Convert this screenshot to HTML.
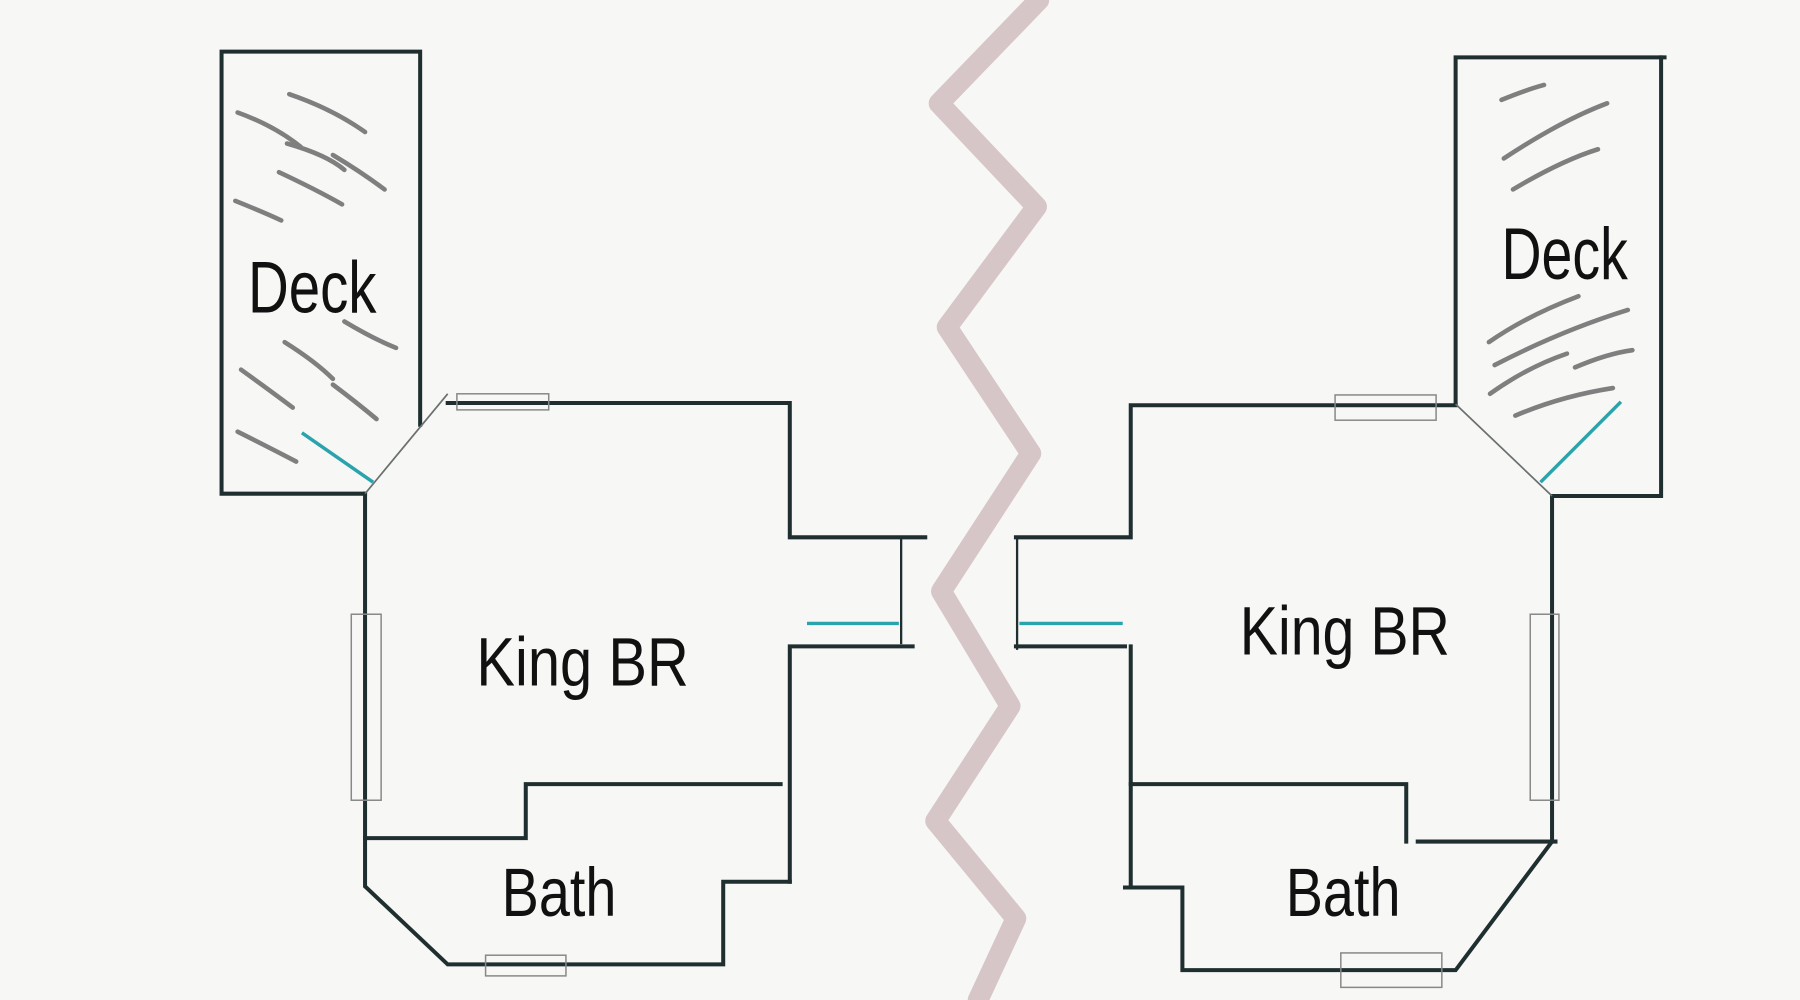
<!DOCTYPE html>
<html><head><meta charset="utf-8"><style>
html,body{margin:0;padding:0;background:#f7f7f6;}
svg{display:block}
text{font-family:"Liberation Sans",sans-serif;fill:#111;}
</style></head><body>
<svg width="1800" height="1000" viewBox="0 0 1568 871" preserveAspectRatio="none">
<rect width="1568" height="871" fill="#f7f7f6"/>
<polyline points="905,0 818,90 903,180 825,285 898,395 820,515 880,615 815,715 885,800 852,871" fill="none" stroke="#d6c6c8" stroke-width="18" stroke-linejoin="round" stroke-linecap="round"/>
<g fill="none" stroke="#1f2f30" stroke-width="3.5" stroke-linecap="square">
<polyline points="366,370 366,45 193,45 193,430 318,430"/>
<polyline points="390,351 685,351"/>
<polyline points="688,351 688,468 806,468"/>
<polyline points="688,768 688,563 795,563"/>
<polyline points="318,430 318,730"/>
<polyline points="318,730 458,730 458,683 680,683"/>
<polyline points="318,730 318,772 390,840 630,840 630,768 688,768"/>
<line x1="785" y1="470" x2="785" y2="560" stroke-width="2"/>
<polyline points="1268,352 1268,50 1450,50"/>
<polyline points="1447,50 1447,432 1352,432"/>
<polyline points="1268,353 985,353 985,468 885,468"/>
<polyline points="885,563 980,563"/>
<polyline points="985,563 985,770"/>
<polyline points="985,683 1225,683 1225,733"/>
<polyline points="1235,733 1355,733"/>
<polyline points="1352,432 1352,733 1268,845 1030,845 1030,773 980,773"/>
<line x1="886" y1="470" x2="886" y2="565" stroke-width="2"/>
</g>
<g stroke="#6a7070" stroke-width="1.5" fill="none">
<line x1="318" y1="430" x2="390" y2="343"/>
<line x1="1268" y1="352" x2="1352" y2="432"/>
</g>
<g stroke="#888" stroke-width="1.3" fill="none">
<rect x="398" y="343" width="80" height="14"/>
<rect x="306" y="535" width="26" height="162"/>
<rect x="423" y="832" width="70" height="18"/>
<rect x="1163" y="344" width="88" height="22"/>
<rect x="1333" y="535" width="25" height="162"/>
<rect x="1168" y="830" width="88" height="30"/>
</g>
<g stroke="#2aa3ad" stroke-width="3" fill="none">
<line x1="263" y1="377" x2="325" y2="420"/>
<line x1="703" y1="543" x2="783" y2="543"/>
<line x1="1342" y1="420" x2="1412" y2="350"/>
<line x1="888" y1="543" x2="978" y2="543"/>
</g>
<g stroke="#7f7f7f" stroke-width="4" stroke-linecap="round" fill="none">
<path d="M252,82 Q290,95 318,115"/><path d="M207,98 Q240,110 262,128"/>
<path d="M250,125 Q285,135 300,148"/><path d="M290,135 Q315,150 335,165"/>
<path d="M243,150 Q275,165 298,178"/><path d="M205,175 Q230,185 245,192"/>
<path d="M300,280 Q325,295 345,303"/><path d="M248,298 Q275,315 290,330"/>
<path d="M210,322 Q235,340 255,355"/><path d="M290,335 Q310,350 328,365"/>
<path d="M207,376 Q235,390 258,402"/>
<path d="M1308,87 Q1330,78 1345,74"/><path d="M1310,138 Q1360,105 1400,90"/>
<path d="M1318,165 Q1360,140 1392,130"/>
<path d="M1297,298 Q1330,275 1375,258"/><path d="M1302,318 Q1360,288 1418,270"/>
<path d="M1298,343 Q1330,320 1365,308"/><path d="M1372,320 Q1400,308 1422,305"/>
<path d="M1320,362 Q1360,345 1405,338"/>
</g>
<text x="216" y="272" font-size="64" textLength="112" lengthAdjust="spacingAndGlyphs">Deck</text>
<text x="415" y="597" font-size="60" textLength="185" lengthAdjust="spacingAndGlyphs">King BR</text>
<text x="437" y="798" font-size="60" textLength="100" lengthAdjust="spacingAndGlyphs">Bath</text>
<text x="1308" y="243" font-size="64" textLength="110" lengthAdjust="spacingAndGlyphs">Deck</text>
<text x="1080" y="570" font-size="60" textLength="183" lengthAdjust="spacingAndGlyphs">King BR</text>
<text x="1120" y="798" font-size="60" textLength="100" lengthAdjust="spacingAndGlyphs">Bath</text>
</svg>
</body></html>
